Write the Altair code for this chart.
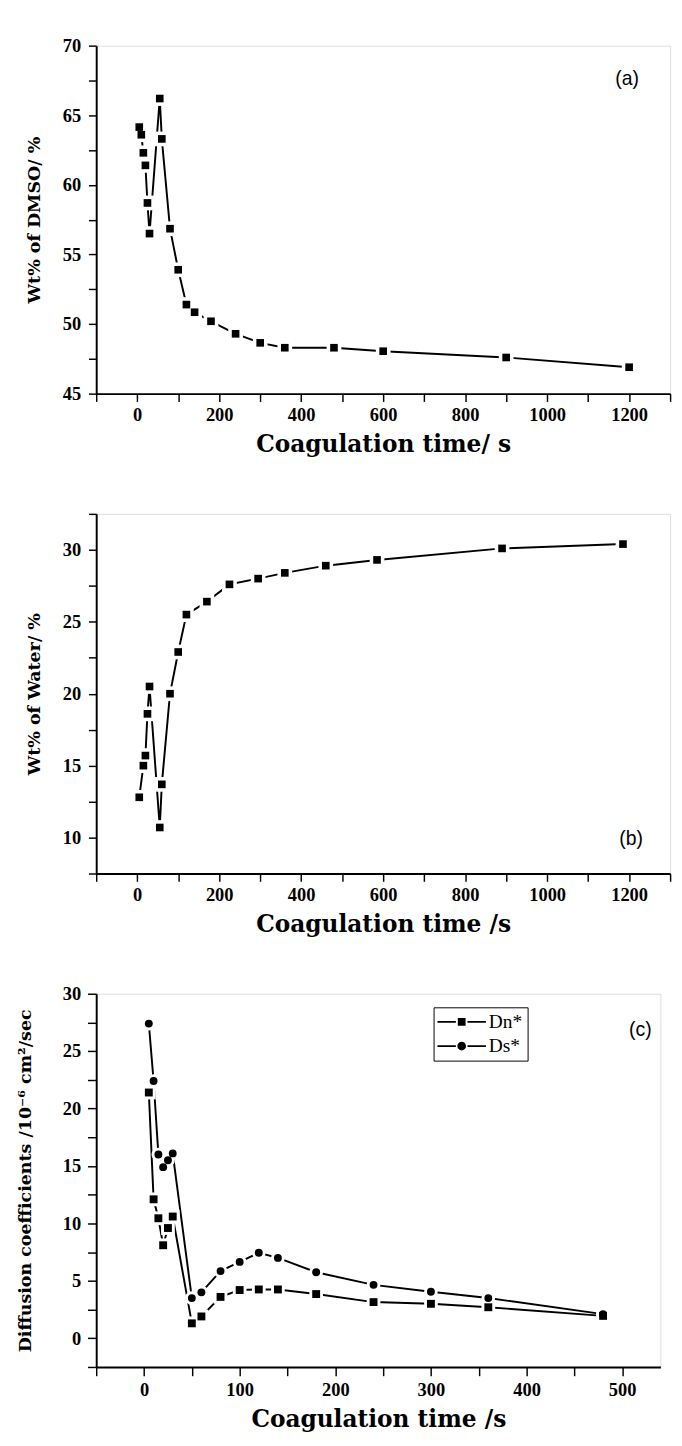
import altair as alt
import pandas as pd

# ---------------- data ----------------
# Panel (a): Wt% of DMSO vs coagulation time
t_dmso = [5, 10, 15, 20, 25, 30, 55, 60, 80, 100, 120, 140, 180, 240, 300, 360, 480, 600, 900, 1200]
dmso = [64.15, 63.6, 62.3, 61.4, 58.7, 56.5, 66.2, 63.3, 56.85, 53.9, 51.4, 50.85, 50.2, 49.3,
        48.65, 48.3, 48.3, 48.05, 47.6, 46.9]

# Panel (b): Wt% of water vs coagulation time
t_water = [5, 15, 20, 25, 30, 55, 60, 80, 100, 120, 170, 225, 295, 360, 460, 585, 890, 1185]
water = [12.8, 15.0, 15.7, 18.6, 20.5, 10.7, 13.7, 20.0, 22.9, 25.5, 26.4, 27.6, 28.0, 28.4,
         28.9, 29.3, 30.1, 30.4]

# Panel (c): diffusion coefficients
t_diff = [5, 10, 15, 20, 25, 30, 50, 60, 80, 100, 120, 140, 180, 240, 300, 360, 480]
dn = [21.4, 12.1, 10.45, 8.1, 9.6, 10.6, 1.3, 1.9, 3.6, 4.2, 4.25, 4.25, 3.85, 3.15, 3.0, 2.7, 1.95]
ds = [27.4, 22.4, 16.0, 14.9, 15.5, 16.1, 3.5, 4.0, 5.85, 6.65, 7.45, 7.0, 5.75, 4.65, 4.05, 3.5, 2.1]
series_names = ["Dn*", "Ds*"]

panel_labels = ["(a)", "(b)", "(c)"]

# ---------------- styling ----------------
SERIF = "Liberation Serif"
TSERIF = "DejaVu Serif"
SANS = "Liberation Sans"
LAB = 19
YT = 18
XT = 24
LW = 2


def lab_expr(label_vals):
    lv = ",".join(str(v) for v in label_vals)
    return f"indexof([{lv}], datum.value) >= 0 ? format(datum.value, 'd') : ''"


def axis_x(values, label_vals, title, tsize=8, tpad=9):
    return alt.Axis(values=values, tickCount=500, title=title, grid=False, tickSize=tsize,
                    tickWidth=1.5, tickColor="black", domainColor="black", domainWidth=2,
                    labelExpr=lab_expr(label_vals),
                    labelFont=SERIF, labelFontWeight="bold", labelFontSize=LAB, labelColor="black",
                    labelPadding=5, labelFlush=False, labelOverlap=False,
                    titleFont=TSERIF, titleFontWeight="bold", titleFontSize=XT, titleColor="black",
                    titlePadding=tpad)


def axis_y(values, label_vals, title, tpad, tsize=8, lpad=8):
    return alt.Axis(values=values, tickCount=500, title=title, grid=False, tickSize=tsize,
                    tickWidth=1.5, tickColor="black", domainColor="black", domainWidth=2,
                    labelExpr=lab_expr(label_vals),
                    labelFont=SERIF, labelFontWeight="bold", labelFontSize=LAB, labelColor="black",
                    labelPadding=lpad, labelFlush=False, labelOverlap=False,
                    minExtent=35, maxExtent=35,
                    titleFont=TSERIF, titleFontWeight="bold", titleFontSize=YT, titleColor="black",
                    titlePadding=tpad)


def single_panel(t, v, xdom, xvals, xlabs, xtitle, ydom, yvals, ylabs, ytitle, w, h,
                 label, lx, ly, tpad):
    df = pd.DataFrame({"t": t, "v": v})
    xs = alt.Scale(domain=xdom, nice=False, zero=False)
    ys = alt.Scale(domain=ydom, nice=False, zero=False)
    base = alt.Chart(df).encode(
        x=alt.X("t:Q", scale=xs, axis=axis_x(xvals, xlabs, xtitle)),
        y=alt.Y("v:Q", scale=ys, axis=axis_y(yvals, ylabs, ytitle, tpad)),
    )
    line = base.mark_line(color="black", strokeWidth=LW)
    halo = base.mark_point(shape="square", filled=True, color="white", size=230, opacity=1)
    pts = base.mark_point(shape="square", filled=True, color="black", size=62, opacity=1)
    lab = alt.Chart(pd.DataFrame({"lab": [label]})).mark_text(
        font=SANS, fontSize=20, color="black").encode(
        x=alt.datum(lx, scale=xs), y=alt.datum(ly, scale=ys), text="lab:N")
    return alt.layer(line, halo, pts, lab).properties(width=w, height=h)


vals_1300 = list(range(-100, 1301, 100))
labs_1300 = list(range(0, 1201, 200))

chart_a = single_panel(t_dmso, dmso, [-100, 1300], vals_1300, labs_1300, "Coagulation time/ s",
                       [45, 70], [45 + 2.5 * i for i in range(11)], [45, 50, 55, 60, 65, 70],
                       "Wt% of DMSO/ %", 592, 359, panel_labels[0], 1195, 67.6, 19)

chart_b = single_panel(t_water, water, [-100, 1300], vals_1300, labs_1300, "Coagulation time /s",
                       [7.5, 32.5], [7.5 + 2.5 * i for i in range(11)], [10, 15, 20, 25, 30],
                       "Wt%  of Water/ %", 592, 371, panel_labels[1], 1205, 9.9, 19)

# ---- panel (c) ----
dfc = pd.DataFrame({
    "t": t_diff * 2,
    "v": dn + ds,
    "s": [series_names[0]] * len(t_diff) + [series_names[1]] * len(t_diff),
})
xs_c = alt.Scale(domain=[-50, 540], nice=False, zero=False)
ys_c = alt.Scale(domain=[-2.5, 30], nice=False, zero=False)
base_c = alt.Chart(dfc).encode(
    x=alt.X("t:Q", scale=xs_c, axis=axis_x(list(range(-50, 501, 50)), list(range(0, 501, 100)),
                                          "Coagulation time /s", tsize=9)),
    y=alt.Y("v:Q", scale=ys_c, axis=axis_y([-2.5 + 2.5 * i for i in range(14)],
                                          [0, 5, 10, 15, 20, 25, 30],
                                          "Diffusion coefficients /10⁻⁶ cm²/sec", 29,
                                          tsize=9, lpad=7)),
)
shape_scale = alt.Scale(domain=series_names, range=["square", "circle"])
line_c = base_c.mark_line(color="black", strokeWidth=LW).encode(detail="s:N")
halo_c = base_c.mark_point(filled=True, color="white", size=200, opacity=1).encode(
    shape=alt.Shape("s:N", scale=shape_scale, legend=None))
pts_c = base_c.mark_point(filled=True, color="black", size=66, opacity=1).encode(
    shape=alt.Shape("s:N", scale=shape_scale, legend=None))
# legend glyphs: line stub - marker - line stub (all filled)
stubs = "M-2.5,-0.09H-0.6V0.09H-2.5ZM0.6,-0.09H2.5V0.09H0.6Z"
sq_path = stubs + "M-0.4,-0.4H0.4V0.4H-0.4Z"
ci_path = stubs + "M-0.45,0A0.45,0.45 0 1,0 0.45,0A0.45,0.45 0 1,0 -0.45,0Z"
leg_c = base_c.mark_point(filled=True, color="black", opacity=0, size=10).encode(
    shape=alt.Shape("s:N", scale=alt.Scale(domain=series_names, range=[sq_path, ci_path]),
                    legend=alt.Legend(title=None, orient="none", legendX=348, legendY=14,
                                      symbolSize=400, symbolOpacity=1, symbolFillColor="black",
                                      symbolStrokeColor="black", symbolStrokeWidth=0,
                                      symbolOffset=14, labelOffset=18,
                                      labelFont=SERIF, labelFontSize=20, labelColor="black",
                                      rowPadding=5, padding=5, strokeColor="black",
                                      fillColor="white", cornerRadius=0)))
lab_c = alt.Chart(pd.DataFrame({"lab": [panel_labels[2]]})).mark_text(
    font=SANS, fontSize=20, color="black").encode(
    x=alt.datum(519, scale=xs_c), y=alt.datum(26.8, scale=ys_c), text="lab:N")
chart_c = alt.layer(line_c, halo_c, pts_c, leg_c, lab_c).resolve_scale(
    shape="independent").properties(width=582, height=385)

chart = alt.vconcat(chart_a, chart_b, chart_c, spacing=48).properties(
    padding={"top": 6, "left": 8, "right": 2, "bottom": 2}
).configure_view(stroke="black", strokeWidth=2).configure(background="white")

chart.save("out.html", embed_options={"renderer": "svg", "actions": False})
